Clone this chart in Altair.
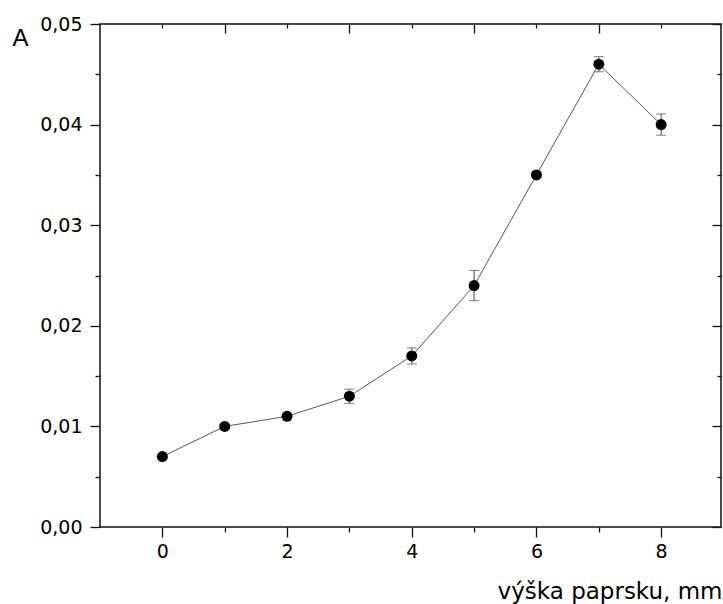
import altair as alt
import pandas as pd

# data
x_vals = [0, 1, 2, 3, 4, 5, 6, 7, 8]
a_vals = [0.0070, 0.0100, 0.0110, 0.0130, 0.0170, 0.0240, 0.0350, 0.0460, 0.0400]
a_err = [0.0002, 0.0002, 0.0002, 0.0007, 0.0008, 0.0015, 0.0003, 0.00075, 0.00105]

x_major = [0, 2, 4, 6, 8]
x_minor = [1, 3, 5, 7]
y_major = [0.0, 0.01, 0.02, 0.03, 0.04, 0.05]
y_minor = [0.005, 0.015, 0.025, 0.035, 0.045]

df = pd.DataFrame({"x": x_vals, "a": a_vals, "err": a_err})
df["lo"] = df["a"] - df["err"]
df["hi"] = df["a"] + df["err"]

FONT = "DejaVu Sans"
TICK = "#111111"
xs = alt.Scale(domain=[-1, 8.96], nice=False, zero=False)
ys = alt.Scale(domain=[0, 0.05], nice=False, zero=False)


def tick_axis(orient, values, size, offset=0):
    return alt.Axis(
        orient=orient, values=values, tickSize=size, offset=offset,
        domain=False, grid=False, labels=False, ticks=True,
        tickColor=TICK, tickWidth=1.3, title="",
    )


base = alt.Chart(df)

line = base.mark_line(color="#555555", strokeWidth=1).encode(
    x=alt.X("x:Q", scale=xs, axis=alt.Axis(
        orient="bottom", values=x_major, tickSize=10, domain=False, grid=False,
        tickColor=TICK, tickWidth=1.3,
        labelFont=FONT, labelFontSize=19, labelColor="#000000", labelPadding=5,
        title="výška paprsku, mm", titleFont=FONT, titleFontSize=23,
        titleFontWeight="normal", titleColor="#000000",
        titleX=622, titleY=71, titleAlign="right", titleBaseline="alphabetic",
    )),
    y=alt.Y("a:Q", scale=ys, axis=alt.Axis(
        orient="left", values=y_major, tickSize=10, domain=False, grid=False,
        tickColor=TICK, tickWidth=1.3,
        labelFont=FONT, labelFontSize=19, labelColor="#000000", labelPadding=8,
        labelExpr="replace(format(datum.value, '.2f'), '.', ',')",
        title="A", titleFont="Liberation Sans", titleFontSize=24, titleFontWeight="normal",
        titleColor="#000000", titleAngle=0, titleX=-88, titleY=21,
        titleAlign="left", titleBaseline="alphabetic",
    )),
)

rules = base.mark_rule(color="#444444", strokeWidth=1).encode(
    x=alt.X("x:Q", scale=xs, axis=tick_axis("top", x_minor, 9, -9)),
    y=alt.Y("lo:Q", scale=ys, axis=tick_axis("right", y_major, 9, -9)),
    y2="hi:Q",
)

caps_lo = base.mark_tick(orient="horizontal", size=10, thickness=1, color="#444444").encode(
    x=alt.X("x:Q", scale=xs, axis=tick_axis("top", x_major, 4, -4)),
    y=alt.Y("lo:Q", scale=ys, axis=tick_axis("right", y_minor, 4, -4)),
)

caps_hi = base.mark_tick(orient="horizontal", size=10, thickness=1, color="#444444").encode(
    x=alt.X("x:Q", scale=xs, axis=None),
    y=alt.Y("hi:Q", scale=ys, axis=None),
)

points = base.mark_circle(size=120, color="#000000", opacity=1).encode(
    x=alt.X("x:Q", scale=xs, axis=tick_axis("bottom", x_minor, 5)),
    y=alt.Y("a:Q", scale=ys, axis=tick_axis("left", y_minor, 5)),
)

chart = alt.layer(line, rules, caps_lo, caps_hi, points).resolve_axis(
    x="independent", y="independent"
).properties(
    width=621, height=503,
    autosize=alt.AutoSizeParams(type="none"),
    padding={"left": 100, "top": 24, "right": 2, "bottom": 77},
    background="#ffffff",
).configure_view(stroke="#111111", strokeWidth=1.5)

chart.save("out.html", embed_options={"renderer": "svg", "actions": False})
